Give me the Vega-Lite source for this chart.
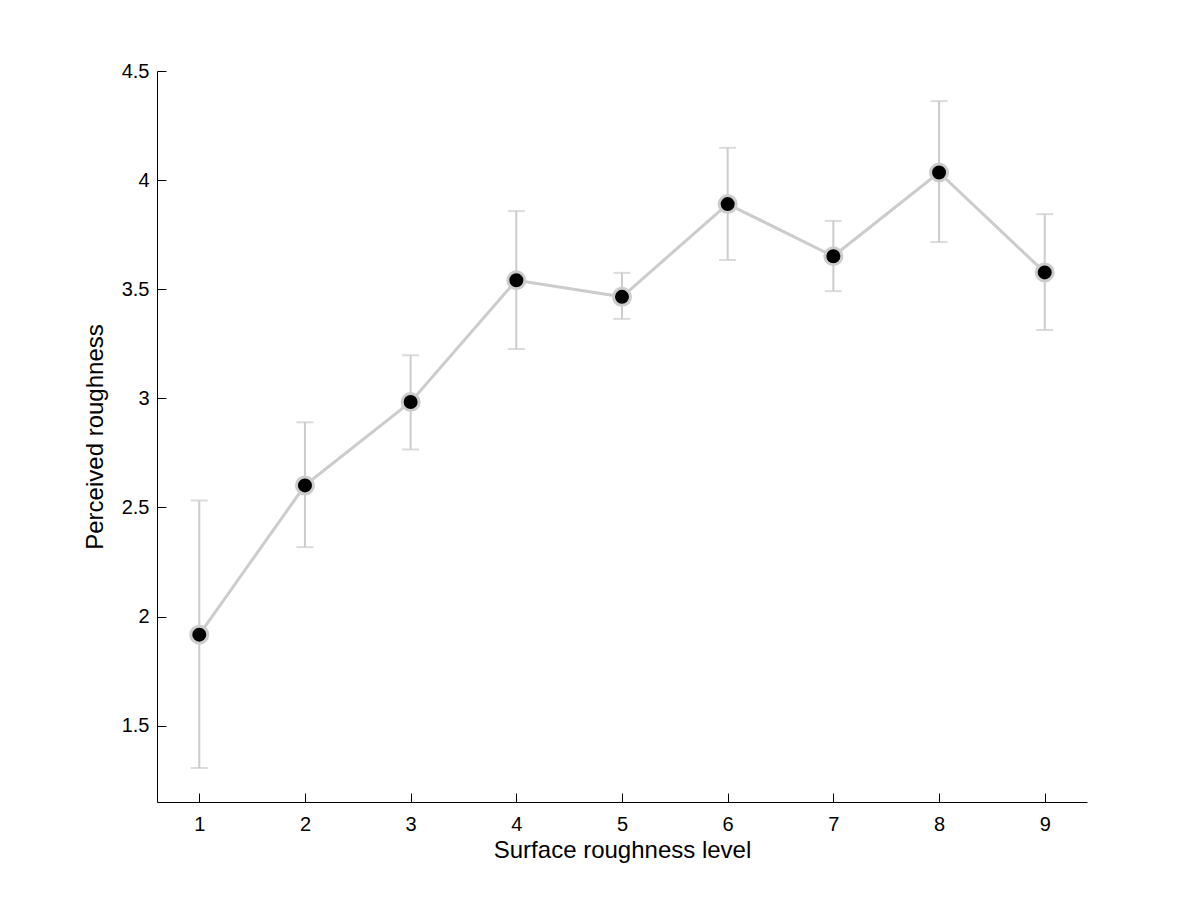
{
  "$schema": "https://vega.github.io/schema/vega-lite/v6.json",
  "width": 930,
  "height": 731,
  "autosize": {"type": "none"},
  "padding": {"left": 157, "top": 71, "right": 114, "bottom": 99},
  "background": "white",
  "config": {
    "view": {"stroke": null},
    "font": "Liberation Sans",
    "axis": {
      "grid": false,
      "domainColor": "black",
      "domainWidth": 1,
      "tickColor": "black",
      "tickWidth": 1,
      "tickSize": 9,
      "labelColor": "black",
      "labelFont": "Liberation Sans",
      "labelFontSize": 20,
      "titleFont": "Liberation Sans",
      "titleFontSize": 24,
      "titleFontWeight": "normal",
      "titleColor": "black"
    }
  },
  "resolve": {"axis": {"x": "independent", "y": "independent"}},
  "data": {
    "values": [
      {"level": 1, "mean": 1.917, "lo": 1.306, "hi": 2.532},
      {"level": 2, "mean": 2.601, "lo": 2.318, "hi": 2.890},
      {"level": 3, "mean": 2.983, "lo": 2.765, "hi": 3.197},
      {"level": 4, "mean": 3.541, "lo": 3.226, "hi": 3.858},
      {"level": 5, "mean": 3.465, "lo": 3.364, "hi": 3.575},
      {"level": 6, "mean": 3.890, "lo": 3.634, "hi": 4.148},
      {"level": 7, "mean": 3.651, "lo": 3.491, "hi": 3.813},
      {"level": 8, "mean": 4.035, "lo": 3.716, "hi": 4.362},
      {"level": 9, "mean": 3.577, "lo": 3.313, "hi": 3.844}
    ]
  },
  "layer": [
    {
      "mark": {"type": "rule", "color": "#cccccc", "strokeWidth": 2},
      "encoding": {
        "x": {
          "field": "level",
          "type": "quantitative",
          "scale": {"domain": [0.6, 9.4], "nice": false, "zero": false},
          "axis": {
            "orient": "bottom",
            "title": "Surface roughness level",
            "values": [1, 2, 3, 4, 5, 6, 7, 8, 9],
            "format": "d",
            "ticks": false,
            "labelPadding": 12,
            "titlePadding": 4
          }
        },
        "y": {
          "field": "lo",
          "type": "quantitative",
          "scale": {"domain": [1.15, 4.5], "nice": false, "zero": false},
          "axis": {
            "orient": "left",
            "title": "Perceived roughness",
            "values": [1.5, 2, 2.5, 3, 3.5, 4, 4.5],
            "format": "~g",
            "ticks": false,
            "labelPadding": 8,
            "titlePadding": 14
          }
        },
        "y2": {"field": "hi"}
      }
    },
    {
      "mark": {"type": "tick", "orient": "horizontal", "color": "#cccccc", "size": 17, "thickness": 2},
      "encoding": {
        "x": {
          "field": "level",
          "type": "quantitative",
          "axis": {
            "orient": "top",
            "offset": -731,
            "values": [1, 2, 3, 4, 5, 6, 7, 8, 9],
            "domain": false,
            "labels": false,
            "ticks": true,
            "tickSize": 9,
            "title": null
          }
        },
        "y": {
          "field": "lo",
          "type": "quantitative",
          "axis": {
            "orient": "right",
            "offset": -930,
            "values": [1.5, 2, 2.5, 3, 3.5, 4, 4.5],
            "domain": false,
            "labels": false,
            "ticks": true,
            "tickSize": 9,
            "title": null
          }
        }
      }
    },
    {
      "mark": {"type": "tick", "orient": "horizontal", "color": "#cccccc", "size": 17, "thickness": 2},
      "encoding": {
        "x": {"field": "level", "type": "quantitative", "axis": null},
        "y": {"field": "hi", "type": "quantitative", "axis": null}
      }
    },
    {
      "mark": {"type": "line", "color": "#cccccc", "strokeWidth": 3},
      "encoding": {
        "x": {"field": "level", "type": "quantitative", "axis": null},
        "y": {"field": "mean", "type": "quantitative", "axis": null}
      }
    },
    {
      "mark": {"type": "point", "shape": "circle", "filled": true, "fill": "black", "stroke": "#cccccc", "strokeWidth": 3, "size": 289, "opacity": 1},
      "encoding": {
        "x": {"field": "level", "type": "quantitative", "axis": null},
        "y": {"field": "mean", "type": "quantitative", "axis": null}
      }
    }
  ]
}
